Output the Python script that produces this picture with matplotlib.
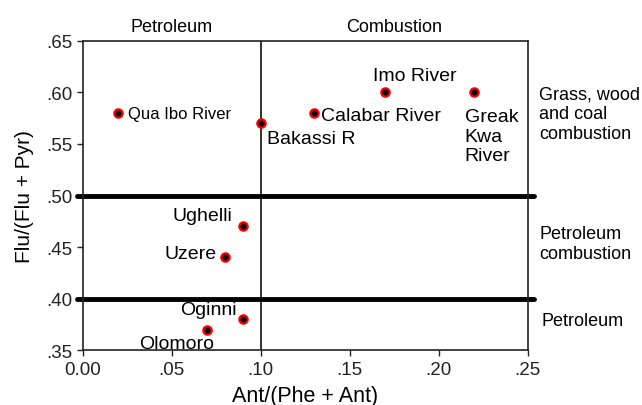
import numpy as np
import matplotlib.pyplot as plt

plt.rcParams['font.family'] = ['Liberation Sans', 'DejaVu Sans']

sites = ['Qua Ibo River', 'Bakassi R', 'Calabar River', 'Imo River', 'Greak\nKwa\nRiver',
         'Ughelli', 'Uzere', 'Oginni', 'Olomoro']
ant = [0.02, 0.10, 0.13, 0.17, 0.22, 0.09, 0.08, 0.09, 0.07]
flu = [0.58, 0.57, 0.58, 0.60, 0.60, 0.47, 0.44, 0.38, 0.37]

# label offsets in points, alignment, size
offs = [(7, 0, 'left', 'center', 12),
        (4.5, -11, 'left', 'center', 14),
        (5, -2, 'left', 'center', 14),
        (21, 12, 'center', 'center', 14),
        (-7, -11, 'left', 'top', 14),
        (-7.5, 8, 'right', 'center', 14),
        (-6, 3, 'right', 'center', 14),
        (-4.5, 7, 'right', 'center', 14),
        (5, -10, 'right', 'center', 14)]

xticks = [0.0, 0.05, 0.10, 0.15, 0.20, 0.25]
xticklabels = ['0.00', '.05', '.10', '.15', '.20', '.25']
yticks = [0.35, 0.40, 0.45, 0.50, 0.55, 0.60, 0.65]
yticklabels = ['.35', '.40', '.45', '.50', '.55', '.60', '.65']

fig = plt.figure(figsize=(6.42, 4.06), dpi=100)
ax = fig.add_axes([0.129, 0.135, 0.693, 0.762])

ax.axvline(0.10, color='#222222', lw=1.3, zorder=1)
for yv in [0.40, 0.50]:
    ax.plot([-0.003, 0.2535], [yv, yv], color='black', lw=3.5, clip_on=False,
            solid_capstyle='round', zorder=2)

ax.plot(ant, flu, 'o', ms=6, mfc='black', mec='red', mew=1.6, zorder=3)
for s, x, y, o in zip(sites, ant, flu, offs):
    ax.annotate(s, (x, y), xytext=(o[0], o[1]), textcoords='offset points',
                ha=o[2], va=o[3], fontsize=o[4], linespacing=1.22)

ax.set_xlim(0, 0.25)
ax.set_ylim(0.35, 0.65)
ax.set_xticks(xticks)
ax.set_xticklabels(xticklabels)
ax.set_yticks(yticks)
ax.set_yticklabels(yticklabels)
ax.tick_params(direction='out', length=4, width=1, labelsize=13.5, colors='#222222')
for sp in ax.spines.values():
    sp.set_color('#222222')
    sp.set_linewidth(1.2)
ax.set_xlabel('Ant/(Phe + Ant)', fontsize=15.5, labelpad=5)
ax.set_ylabel('Flu/(Flu + Pyr)', fontsize=15, labelpad=9)

ax.text(0.05, 0.6555, 'Petroleum', ha='center', va='bottom', fontsize=13)
ax.text(0.175, 0.6555, 'Combustion', ha='center', va='bottom', fontsize=13)
ax.text(0.2565, 0.5795, 'Grass, wood\nand coal\ncombustion', ha='left', va='center',
        fontsize=13, linespacing=1.2)
ax.text(0.2565, 0.4535, 'Petroleum\ncombustion', ha='left', va='center', fontsize=13,
        linespacing=1.2)
ax.text(0.258, 0.3785, 'Petroleum', ha='left', va='center', fontsize=13)

fig.savefig('out.png', dpi=100)
